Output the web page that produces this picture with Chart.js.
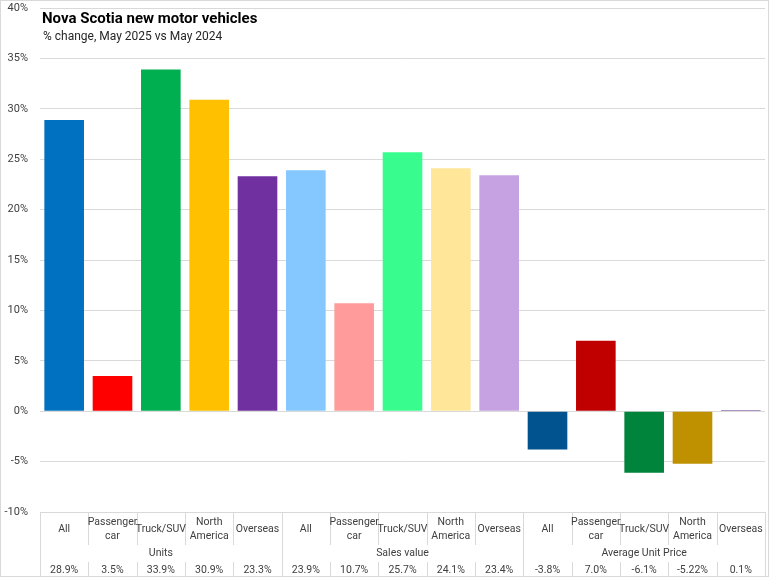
<!DOCTYPE html>
<html>
<head>
<meta charset="utf-8">
<script src="https://cdn.jsdelivr.net/npm/chart.js@4"></script>
<style>
  html, body { margin: 0; padding: 0; background: #fff; }
  #wrap { width: 769px; height: 577px; }
</style>
</head>
<body>
<div id="wrap"><canvas id="myChart" width="769" height="577"></canvas></div>
<script>
let categories = [
  ["All"], ["Passenger", "car"], ["Truck/SUV"], ["North", "America"], ["Overseas"],
  ["All"], ["Passenger", "car"], ["Truck/SUV"], ["North", "America"], ["Overseas"],
  ["All"], ["Passenger", "car"], ["Truck/SUV"], ["North", "America"], ["Overseas"]
];
let groups = ["Units", "Sales value", "Average Unit Price"];
let values = [28.9, 3.5, 33.9, 30.9, 23.3, 23.9, 10.7, 25.7, 24.1, 23.4, -3.8, 7.0, -6.1, -5.22, 0.1];
let valueLabels = ["28.9%", "3.5%", "33.9%", "30.9%", "23.3%", "23.9%", "10.7%", "25.7%", "24.1%", "23.4%",
  "-3.8%", "7.0%", "-6.1%", "-5.22%", "0.1%"];
let barColors = [
  "#0070C0", "#FF0000", "#00B050", "#FFC000", "#7030A0",
  "#85C8FF", "#FF9B9B", "#38FC8E", "#FFE699", "#C6A2E2",
  "#00538F", "#C00000", "#00843C", "#BF9000", "#5B2A86"
];
let yTicks = [-10, -5, 0, 5, 10, 15, 20, 25, 30, 35, 40];

const FONT = "Roboto, 'Liberation Sans', sans-serif";

// --------------- table under the chart ------------------
const tablePlugin = {
  id: 'tablePlugin',
  afterDraw(chart) {
    const c = chart.ctx;
    const x = chart.scales.x;
    const area = chart.chartArea;
    const half = (x.getPixelForValue(1) - x.getPixelForValue(0)) / 2;
    const top = area.bottom;
    const row1 = top + 33, row2 = row1 + 17, bottom = 576;

    c.save();
    c.strokeStyle = "#D9D9D9";
    c.lineWidth = 1;

    // category + value row separators
    for (let i = 0; i <= values.length; i++) {
      let px = Math.round(x.getPixelForValue(i) - half) + 0.5;
      c.beginPath();
      c.moveTo(px, top);
      c.lineTo(px, row1);
      c.moveTo(px, row2);
      c.lineTo(px, bottom);
      c.stroke();
    }
    // group separators
    for (let g = 0; g <= groups.length; g++) {
      let px = Math.round(x.getPixelForValue(g * 5) - half) + 0.5;
      c.beginPath();
      c.moveTo(px, row1);
      c.lineTo(px, row2);
      c.stroke();
    }

    c.fillStyle = "#404040";
    c.font = "10.5px " + FONT;
    c.textAlign = "center";
    c.textBaseline = "middle";
    categories.forEach((lab, i) => {
      let px = x.getPixelForValue(i);
      if (lab.length === 1) {
        c.fillText(lab[0], px, top + 17);
      } else {
        c.fillText(lab[0], px, top + 10);
        c.fillText(lab[1], px, top + 24);
      }
      c.fillText(valueLabels[i], px, row2 + 8);
    });
    groups.forEach((g, gi) => {
      let px = (x.getPixelForValue(gi * 5) + x.getPixelForValue(gi * 5 + 4)) / 2;
      c.fillText(g, px, row1 + 8);
    });

    // title
    c.textAlign = "left";
    c.fillStyle = "#000";
    c.font = "bold 15px " + FONT;
    c.fillText("Nova Scotia new motor vehicles", 42, 19);
    c.fillStyle = "#262626";
    c.font = "12px " + FONT;
    c.fillText("% change, May 2025 vs May 2024", 43, 37);

    // outer border
    c.strokeStyle = "#D9D9D9";
    c.strokeRect(0.5, 0.5, 768, 576);
    c.restore();
  }
};

const ctx = document.getElementById('myChart');
new Chart(ctx, {
  type: 'bar',
  data: {
    labels: categories,
    datasets: [{
      data: values,
      backgroundColor: barColors,
      borderWidth: 0,
      barPercentage: 0.82,
      categoryPercentage: 1
    }]
  },
  options: {
    responsive: false,
    animation: false,
    devicePixelRatio: 1,
    layout: { padding: { top: 8, bottom: 65, right: 4, left: 0 } },
    plugins: {
      legend: { display: false },
      tooltip: { enabled: false }
    },
    scales: {
      x: { display: false },
      y: {
        min: -10,
        max: 40,
        afterFit(scale) { scale.width = 40; scale.paddingTop = 0; },
        afterBuildTicks(scale) { scale.ticks = yTicks.map(v => ({ value: v })); },
        border: { display: false },
        grid: { color: "#D9D9D9", drawTicks: false },
        ticks: {
          padding: 12,
          color: "#404040",
          font: { size: 11, family: FONT },
          callback: v => v + "%"
        }
      }
    }
  },
  plugins: [tablePlugin]
});
</script>
</body>
</html>
